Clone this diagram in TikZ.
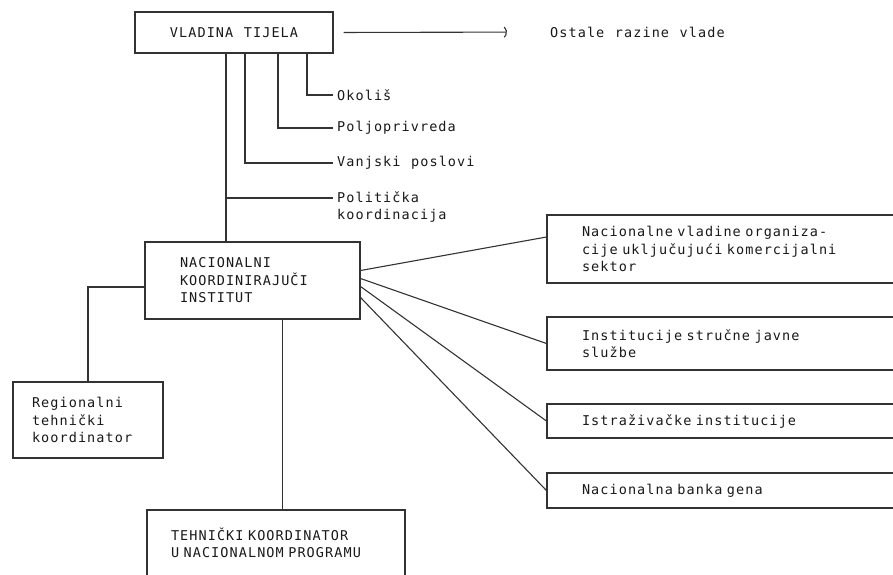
\documentclass[tikz,border=0pt]{standalone}
\usepackage{fontspec}
\newfontfamily\tw[LetterSpace=8, WordSpace=1.15]{DejaVu Sans Mono}
\usetikzlibrary{arrows.meta}

\begin{document}
\begin{tikzpicture}[x=1pt,y=-1pt,
  every node/.style={font=\tw\fontsize{13.5}{17.5}\selectfont, text=black!90},
  ln/.style={line width=1.1pt, draw=black!80},
  box/.style={draw=black!80, line width=1.1pt, align=left, inner ysep=0pt},
  lbl/.style={anchor=west, inner sep=4pt, align=left}]
\path[use as bounding box, clip] (0,0) rectangle (893,574);

% boxes
\node[box, align=center, minimum width=198pt, minimum height=41pt] (vlada) at (234,32.5) {VLADINA TIJELA};
\node[box, text width=145pt, inner xsep=35pt, minimum height=77pt] (nki) at (252.5,280.5)
  {NACIONALNI\\KOORDINIRAJUČI\\INSTITUT};
\node[box, text width=112pt, inner xsep=19pt, minimum height=76pt] (reg) at (88,420)
  {Regionalni\\tehnički\\koordinator};
\node[box, text width=210pt, inner xsep=24pt, minimum height=66pt] (teh) at (276,543)
  {TEHNIČKI KOORDINATOR\\U NACIONALNOM PROGRAMU};

\node[box, text width=290pt, inner xsep=35pt, minimum height=68pt] (r1) at (727,249)
  {Nacionalne vladine organiza-\\cije uključujući komercijalni\\sektor};
\node[box, text width=290pt, inner xsep=35pt, minimum height=53pt] (r2) at (727,343.5)
  {Institucije stručne javne\\službe};
\node[box, text width=290pt, inner xsep=35pt, minimum height=34pt] (r3) at (727,421)
  {Istraživačke institucije};
\node[box, text width=290pt, inner xsep=35pt, minimum height=35pt] (r4) at (727,490.5)
  {Nacionalna banka gena};

% labels
\node[lbl] (ostale) at (546,32) {Ostale razine vlade};
\node[lbl] (okolis) at (333,95) {Okoliš};
\node[lbl] (polj) at (333,128) {Poljoprivreda};
\node[lbl] (vanjski) at (333,163) {Vanjski poslovi};
\node[lbl, anchor=north west] (politicka) at (333,187) {Politička\\koordinacija};

% connectors
\draw[ln, -{Parenthesis[length=5pt,width=13pt]}, shorten <=10pt, shorten >=39pt] (vlada.east) -- (ostale.west);
\draw[ln] ([xshift=73pt]vlada.south) |- (okolis.west);
\draw[ln] ([xshift=44pt]vlada.south) |- (polj.west);
\draw[ln] ([xshift=11pt]vlada.south) |- (vanjski.west);

\coordinate (vt) at ([xshift=-8pt]vlada.south);
\draw[ln] (vt) -- (vt |- nki.north);
\coordinate (pk) at (226,198);
\draw[ln] (pk) -- (pk -| politicka.west);

\draw[ln] ([yshift=-6.5pt]nki.west) -| (reg.north);
\coordinate (nb) at ([xshift=30pt]nki.south);
\draw[ln] (nb) -- (nb |- teh.north);

\foreach \s/\t/\e in {10/r1/12, 2/r2/0, -6/r3/0, -17/r4/0}
  \draw[ln] ([yshift=\s pt]nki.east) -- ([yshift=\e pt]\t.west);
\end{tikzpicture}
\end{document}
